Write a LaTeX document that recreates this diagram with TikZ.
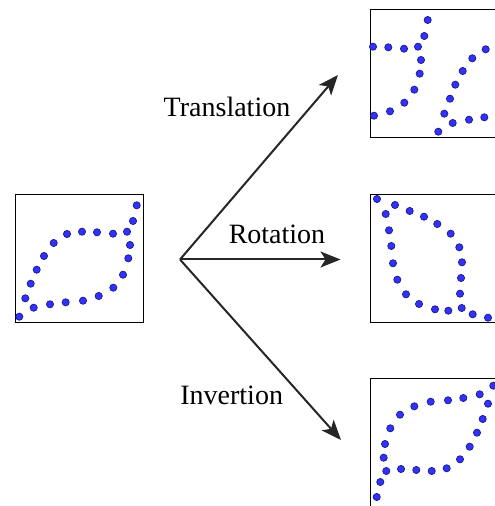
\documentclass[tikz,border=0pt]{standalone}
\usepackage{fontspec}
\setmainfont{Liberation Serif}
\usepackage{tikz}
\usetikzlibrary{arrows.meta, positioning, calc}
\definecolor{dotfill}{RGB}{ 50, 50,245}
\definecolor{dotedge}{RGB}{ 25, 25,150}
\tikzset{
  panel/.style={rectangle, draw=black, line width=1.3pt, minimum width=128pt,
    minimum height=128pt, inner sep=0pt, anchor=south west},
  pt/.style={fill=dotfill, draw=dotedge, line width=0.7pt},
  arr/.style={-{Stealth[length=20pt,width=16pt,inset=5pt]}, line width=2pt, color=black!85},
  oplbl/.style={font=\fontsize{28}{32}\selectfont, anchor=base, inner sep=0pt},
}
% leaf shapes, points relative to the lower left corner of each panel
\def\ptsorig{121.7/117.7,118/102,112/91.3,115/78,113.3/64.7,108/48.3,98.3/35.3,83.7/27,68/22.3,50.7/20.7,35/18.7,18.7/15.3,4.3/6.3,10.3/24.7,15.7/39.3,21.7/53.3,29/67,38.7/80,52/89,67/91.3,82/90.7,98/89.3}
\def\ptstrans{57.7/118,54.3/102,48/91.3,34/89.3,18.3/90.7,3/91.3,51/78,49.7/64.3,44.3/48.3,34.3/35.3,20/26.7,4/22.3,115.7/88.7,102.3/79.7,92.7/67,85.3/53.3,80/39.3,74.3/24.3,68.3/6.3,82.7/15,99/18.3,114.3/20.7}
\def\ptsrot{7/124,25/118,15.7/109,39.7/112,54/106.3,67.3/99,80.7/89.3,89.3/75.7,92/60.7,91/45,90/29.3,91.7/15,102.7/8.7,118/5.3,78.3/12.3,65/13.7,49/19,36/28.7,27.3/43.3,23/59.7,21.3/77,19/92.7}
\def\ptsinv{123.3/121.3,109.7/112.7,118/103.3,93.3/109,78/106.7,60.7/105.3,44.3/100.7,30/92.3,20.3/78.7,15/63,13.7/49.3,16.3/36,10.3/25,6.7/10,31/38,46.3/37,61.7/36,76.7/38.7,90/47.7,99.7/60.3,107/74.3,112.7/88}

\begin{document}
\begin{tikzpicture}[x=1pt, y=1pt]
\useasboundingbox (0,0) rectangle (495,506);
% panels
\node[panel] (orig)  at (15,183)  {};
\node[panel] (trans) at (370,368) {};
\node[panel] (rot)   at (370,183) {};
\node[panel] (inv)   at (370,-1)  {};
% points
\foreach \x/\y in \ptsorig  {\filldraw[pt] ($(orig.south west)+(\x,\y)$) circle (3.6);}
\foreach \x/\y in \ptstrans {\filldraw[pt] ($(trans.south west)+(\x,\y)$) circle (3.6);}
\foreach \x/\y in \ptsrot   {\filldraw[pt] ($(rot.south west)+(\x,\y)$) circle (3.6);}
\foreach \x/\y in \ptsinv   {\filldraw[pt] ($(inv.south west)+(\x,\y)$) circle (3.6);}
% arrows
\coordinate (split) at (180,246.5);
\coordinate (totrans) at (338,431);
\coordinate (torot)   at (340.5,246.5);
\coordinate (toinv)   at (341,66);
\draw[arr] (split) -- (totrans);
\draw[arr] (split) -- (torot);
\draw[arr] (split) -- (toinv);
\node[oplbl] (ltrans) at (227,389.3) {Translation};
\node[oplbl] (lrot)   at (277,262.7) {Rotation};
\node[oplbl] (linv)   at (231.7,101) {Invertion};
\end{tikzpicture}
\end{document}
